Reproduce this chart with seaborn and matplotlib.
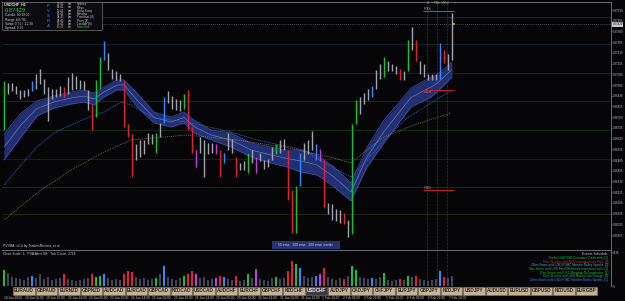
import matplotlib
matplotlib.use("Agg")
import matplotlib.pyplot as plt
import matplotlib.transforms as mtrans
from matplotlib.patches import Rectangle
import numpy as np
import pandas as pd
import seaborn as sns

W, H = 625, 301
BG = "#060609"

# --- price bars (one per bar slot) ---
candle_high = [
    0.8703, 0.8702, 0.8702, 0.8700, 0.8697, 0.8697, 0.8698, 0.8703, 0.8708, 0.8712,
    0.8705, 0.8699, 0.8698, 0.8698, 0.8700, 0.8699, 0.8706, 0.8709, 0.8707, 0.8704,
    0.8703, 0.8697, 0.8687, 0.8704, 0.8720, 0.8731, 0.8723, 0.8712, 0.8710, 0.8708,
    0.8703, 0.8673, 0.8666, 0.8659, 0.8662, 0.8662, 0.8667, 0.8666, 0.8667, 0.8674,
    0.8692, 0.8696, 0.8693, 0.8691, 0.8690, 0.8694, 0.8697, 0.8671, 0.8655, 0.8664,
    0.8662, 0.8660, 0.8660, 0.8659, 0.8655, 0.8653, 0.8667, 0.8663, 0.8650, 0.8646,
    0.8647, 0.8653, 0.8655, 0.8650, 0.8653, 0.8648, 0.8649, 0.8657, 0.8659, 0.8662,
    0.8663, 0.8655, 0.8627, 0.8630, 0.8653, 0.8660, 0.8662, 0.8668, 0.8659, 0.8656,
    0.8648, 0.8618, 0.8617, 0.8614, 0.8613, 0.8611, 0.8606, 0.8673, 0.8690, 0.8692,
    0.8695, 0.8698, 0.8700, 0.8711, 0.8715, 0.8720, 0.8717, 0.8715, 0.8714, 0.8712,
    0.8710, 0.8732, 0.8741, 0.8732, 0.8717, 0.8715, 0.8708, 0.8708, 0.8708, 0.8730,
    0.8725, 0.8722, 0.8751,
]
candle_low = [
    0.8669, 0.8694, 0.8696, 0.8694, 0.8691, 0.8692, 0.8693, 0.8696, 0.8698, 0.8701,
    0.8694, 0.8675, 0.8691, 0.8692, 0.8693, 0.8692, 0.8694, 0.8697, 0.8698, 0.8698,
    0.8697, 0.8683, 0.8669, 0.8678, 0.8698, 0.8718, 0.8711, 0.8705, 0.8704, 0.8703,
    0.8671, 0.8664, 0.8636, 0.8648, 0.8650, 0.8652, 0.8659, 0.8659, 0.8653, 0.8664,
    0.8674, 0.8688, 0.8684, 0.8683, 0.8682, 0.8684, 0.8669, 0.8653, 0.8643, 0.8653,
    0.8636, 0.8652, 0.8653, 0.8652, 0.8636, 0.8646, 0.8655, 0.8653, 0.8636, 0.8641,
    0.8641, 0.8639, 0.8646, 0.8639, 0.8647, 0.8642, 0.8643, 0.8648, 0.8652, 0.8653,
    0.8655, 0.8620, 0.8597, 0.8597, 0.8630, 0.8648, 0.8652, 0.8655, 0.8648, 0.8647,
    0.8615, 0.8610, 0.8606, 0.8605, 0.8604, 0.8603, 0.8594, 0.8596, 0.8673, 0.8680,
    0.8687, 0.8690, 0.8692, 0.8698, 0.8705, 0.8706, 0.8710, 0.8710, 0.8708, 0.8704,
    0.8704, 0.8710, 0.8725, 0.8717, 0.8708, 0.8706, 0.8704, 0.8704, 0.8704, 0.8705,
    0.8716, 0.8711, 0.8718,
]
# PVSRA colour class per bar: w normal, g/r climax, b/m rising volume
candle_class = (
    "gwwwwwwbww" "wwwwwrwwww" "wwrggbwwww" "rrrwwwwwgw" "bwwwwgrrmw"
    "wwwmrbwwrw" "wgwmwwwwgw" "wrrgbwwwbm" "rwwwwrwggw" "wwbwwgwwwr"
    "wgwrwwwwwb" "rww"
)
tick_volume = [
    1600, 1300, 900, 800, 700, 600, 900, 1000, 800, 1200,
    700, 900, 600, 700, 800, 1200, 700, 600, 500, 600,
    700, 800, 1200, 900, 1000, 1200, 800, 600, 700, 600,
    1200, 1500, 1400, 900, 700, 800, 600, 700, 800, 1200,
    2000, 900, 700, 600, 800, 1000, 1200, 1500, 1200, 800,
    900, 600, 700, 800, 1000, 900, 700, 600, 1000, 500,
    600, 1200, 800, 1700, 700, 600, 500, 800, 900, 700,
    800, 1500, 2500, 2200, 1800, 1000, 800, 900, 1000, 1200,
    1800, 900, 700, 600, 800, 700, 1000, 2000, 1600, 900,
    800, 700, 800, 700, 900, 1300, 600, 500, 600, 700,
    600, 1000, 900, 1000, 700, 600, 500, 600, 700, 1500,
    900, 800, 1000,
]

# --- 50 ema envelope (band) and the 100 / 200 ema ---
band_bar = [0, 4.25, 8.25, 12.5, 16.75, 20, 22.5, 25, 28.25, 30, 33.25, 37.5, 41.75,
            45, 47.5, 51.75, 56.75, 61.75, 66.75, 70.75, 74.25, 78.25, 82.5, 86.75,
            90.75, 95, 99.25, 101.75, 106.75, 108.25, 112]
band_upper = [0.86662, 0.86809, 0.86893, 0.86928, 0.86956, 0.8697, 0.86949, 0.86991,
              0.8704, 0.8704, 0.86949, 0.86816, 0.86781, 0.86816, 0.8676, 0.8669,
              0.86669, 0.86599, 0.86571, 0.8655, 0.8655, 0.86515, 0.86431, 0.86319,
              0.86571, 0.8676, 0.869, 0.86984, 0.87061, 0.87075, 0.87166]
band_lower = [0.8648, 0.86641, 0.86788, 0.86844, 0.86872, 0.86886, 0.86865, 0.86921,
              0.8697, 0.8697, 0.86851, 0.86739, 0.86711, 0.86739, 0.86669, 0.8662,
              0.86571, 0.86501, 0.86459, 0.86431, 0.86396, 0.86375, 0.86291, 0.86193,
              0.86431, 0.86599, 0.8676, 0.86851, 0.86921, 0.86956, 0.87061]
ema100_bar = [0, 4.25, 8.25, 12.5, 16.75, 20.75, 25, 29.25, 31.75, 37.5, 45.75, 56.75,
              63.25, 75, 80, 86.75, 90.75, 95, 100.75, 106.75, 112]
ema100 = [0.86305, 0.86445, 0.86571, 0.86669, 0.86725, 0.86774, 0.86816, 0.86886,
          0.86865, 0.86774, 0.86746, 0.86676, 0.8662, 0.8655, 0.86459, 0.86361,
          0.8648, 0.8662, 0.86774, 0.86879, 0.8697]
ema200_bar = [0, 8.25, 16.75, 25, 31.75, 40, 45.75, 58.25, 70, 82.5, 86.75, 90.75,
              95, 102.5, 111.75]
ema200 = [0.8606, 0.86249, 0.8641, 0.86536, 0.8662, 0.86641, 0.86655, 0.8662,
          0.86571, 0.86494, 0.86459, 0.8655, 0.86641, 0.86725, 0.86809]

round_levels = [0.8748, 0.8729, 0.8709, 0.8689, 0.8669, 0.8649, 0.8629, 0.8610]
level_colors = ["#0e2a28", "#18202e", "#122234", "#262610", "#0f3016",
                "#1a202a", "#182432", "#242410"]
bid = 0.87429
price_ticks = [0.8753 - 0.00075 * k for k in range(22)]

date_labels = ["18 Jan 2024", "19 Jan 06:00", "19 Jan 22:00", "22 Jan 14:00",
               "23 Jan 06:00", "23 Jan 22:00", "24 Jan 14:00", "25 Jan 06:00",
               "25 Jan 22:00", "26 Jan 14:00", "29 Jan 06:00", "29 Jan 22:00",
               "30 Jan 14:00", "31 Jan 06:00", "31 Jan 22:00", "1 Feb 14:00",
               "2 Feb 06:00", "2 Feb 22:00", "5 Feb 14:00", "6 Feb 06:00",
               "6 Feb 22:00", "7 Feb 14:00"]
pairs = ["EURAUD", "GBPAUD", "EURNZD", "GBPNZD", "AUDCAD", "EURCAD", "GBPCAD",
         "NZDCAD", "USDCAD", "AUDCHF", "EURCHF", "GBPCHF", "NZDCHF", "USDCHF",
         "AUDJPY", "CADJPY", "CHFJPY", "EURJPY", "GBPJPY", "NZDJPY", "USDJPY",
         "AUDUSD", "EURUSD", "GBPUSD", "NZDUSD", "EURGBP"]
events = [
    ("Prelim UoM USD Consumer Credit m/m  [1]", "#19c23c"),
    ("8 hrs 11 mins until NZD Unemployment Rate  [0]", "#e0203a"),
    ("25hrs 9mins until USD FOMC Member Bailey Speaks  [0]", "#2fb0e8"),
    ("8hrs 9mins until USD Final Wholesale Inventories m/m  [1]", "#19c23c"),
    ("8 hrs 9mins until USD Mortgage Delinquencies  [1]", "#19c23c"),
    ("8 hrs 11 mins until USD Natural Gas Storage  [1]", "#19c23c"),
    ("25hrs 9mins until USD FOMC Member Barkin Speaks  [1]", "#2f8fff"),
]
clock_rows = [("02:41", "am", "Sydney"), ("00:41", "am", "Tokyo"),
              ("11:41", "pm", "Hong Kong"), ("06:41", "pm", "Moscow"),
              ("04:41", "pm", "Frankfurt (8)"), ("04:41", "pm", "Paris (8)"),
              ("03:41", "pm", "London (8)"), ("10:41", "am", "New York")]

class_colors = {"w": "#a4a4ae", "g": "#12c43c", "r": "#e3203c",
                "b": "#2f8cff", "m": "#c43ee6"}
vol_colors = {"w": "#44445a", "g": "#12c43c", "r": "#e3203c",
              "b": "#2f8cff", "m": "#c43ee6"}

sns.set_theme(style="dark")
plt.rcParams["font.family"] = ["Liberation Sans", "DejaVu Sans"]


def fx(x):
    return x / W


def fy(y):
    return 1 - y / H


fig = plt.figure(figsize=(W / 100, H / 100), dpi=100, facecolor=BG)
ax = fig.add_axes([fx(2), fy(250), 609 / W, 248 / H])
vax = fig.add_axes([fx(2), fy(286), 609 / W, 35 / H])
xlim = (-0.5, -0.5 + 609 / 4)

bars = pd.DataFrame({
    "bar": np.arange(len(candle_high)),
    "high": candle_high,
    "low": candle_low,
    "cls": list(candle_class),
    "volume": tick_volume,
})
band = pd.DataFrame({"bar": band_bar, "upper": band_upper, "lower": band_lower})
band["mid"] = (band["upper"] + band["lower"]) / 2

# ---------------- main price window ----------------
ax.set_facecolor(BG)
for lvl, col in zip(round_levels, level_colors):
    ax.axhline(lvl, color=col, lw=0.7, zorder=1)
ax.axhline(bid, color="#8c8c94", lw=0.5, ls=(0, (1, 2)), zorder=2)

ax.fill_between(band["bar"], band["lower"], band["upper"], color="#25327a",
                alpha=0.95, lw=0, zorder=3)
sns.lineplot(data=band, x="bar", y="upper", ax=ax, color="#4050a8", lw=0.5, zorder=4)
sns.lineplot(data=band, x="bar", y="lower", ax=ax, color="#4050a8", lw=0.5, zorder=4)
sns.lineplot(data=band, x="bar", y="mid", ax=ax, color="#8e98d8", lw=0.35, zorder=4)
sns.lineplot(x=ema100_bar, y=ema100, ax=ax, color="#3566c8", lw=0.55,
             ls=(0, (1.5, 1)), zorder=4)
sns.lineplot(x=ema200_bar, y=ema200, ax=ax, color="#a89a5c", lw=0.55,
             ls=(0, (1, 1.5)), zorder=4)

ax.vlines(bars["bar"], bars["low"], bars["high"],
          colors=[class_colors[c] for c in bars["cls"]], lw=1.0, zorder=5)

# session / pivot markers on the right
for b in [105.75, 108.25, 110.75]:
    ax.axvline(b, color="#6c6c6c", lw=0.4, ls=(0, (1, 1.5)), zorder=2)
ax.hlines([0.87523], 104.75, 112.5, color="#3a60d8", lw=0.8, zorder=6)
ax.hlines([0.8697, 0.8627], 104.75, 112.5, color="#c0202c", lw=0.8, zorder=6)
ax.text(105, 0.87523, "R3D5 -", fontsize=2, color="#a0a0b0", va="bottom")
ax.text(105, 0.8697, "S1D4 -", fontsize=2, color="#a0a0b0", va="top")
ax.text(105, 0.8627, "S3D5 -", fontsize=2, color="#a0a0b0", va="bottom")
sns.scatterplot(x=[112.6], y=[bid], ax=ax, color="#20e040", s=2, marker="s",
                edgecolor="none", zorder=7)

ax.set_xlim(*xlim)
ax.set_ylim(0.876 - 0.00007 * 250, 0.876 - 0.00007 * 2)
ax.yaxis.tick_right()
ax.set_yticks(price_ticks)
ax.set_yticklabels([f"{p:.5f}" for p in price_ticks])
ax.tick_params(axis="y", labelsize=2.05, colors="#c4c4c4", length=1, width=0.4, pad=0.5)
ax.set_xticks([])
ax.set_xlabel("")
ax.set_ylabel("")
ax.grid(False)
ax.spines["left"].set_visible(False)
for side in ["right", "top", "bottom"]:
    ax.spines[side].set_color("#7c7c84")
    ax.spines[side].set_linewidth(0.6)
ax.text(1.0025, bid, f"{bid:.5f}", transform=mtrans.blended_transform_factory(
    ax.transAxes, ax.transData), fontsize=2.05, color="#101010", va="center",
    ha="left", bbox=dict(boxstyle="square,pad=0.12", fc="#c9c9d2", ec="none"))

# ---------------- volume sub window ----------------
vax.set_facecolor(BG)
vax.bar(bars["bar"], bars["volume"], width=0.7,
        color=[vol_colors[c] for c in bars["cls"]], lw=0)
for b in [105.75, 108.25, 110.75]:
    vax.axvline(b, color="#6c6c6c", lw=0.4, ls=(0, (1, 1.5)))
vax.set_xlim(*xlim)
vax.set_ylim(0, 3500)
vax.yaxis.tick_right()
vax.set_yticks([0, 3400])
vax.set_yticklabels(["0", "3416"])
vax.tick_params(axis="y", labelsize=2.05, colors="#c4c4c4", length=1, width=0.4, pad=0.5)
vax.set_xticks([k * 5.3 for k in range(len(date_labels))])
vax.set_xticklabels(date_labels, ha="left")
vax.tick_params(axis="x", labelsize=2.3, colors="#c4c4c4", length=0, pad=7.2)
vax.set_xlabel("")
vax.set_ylabel("")
vax.grid(False)
for side in ["left", "top", "bottom"]:
    vax.spines[side].set_visible(False)
vax.spines["right"].set_color("#7c7c84")
vax.spines["right"].set_linewidth(0.6)

# ---------------- overlays in pixel coordinates ----------------
fig.add_artist(Rectangle((fx(2), fy(30)), 100 / W, 28 / H, transform=fig.transFigure,
                         fc="#0b0b10", ec="#707078", lw=0.5))
fig.text(fx(4), fy(4.5), "USDCHF  H1", fontsize=2.6, color="#f0f0f0",
         weight="bold", va="center")
fig.text(fx(5), fy(10), f"{bid:.5f}", fontsize=4.2, color="#18d048", va="center")
info = ["Candle: 00:19:00", "Range: 60 / 95", "Swap: 0.71 / -12.30", "Spread: 0.70"]
for k, line in enumerate(info):
    fig.text(fx(5), fy(15.5 + 4 * k), line, fontsize=2.3, color="#d4d4d4", va="center")
for k, ch in enumerate("PVSRA"):
    fig.text(fx(48), fy(6 + 5 * k), ch, fontsize=3.2, color="#3456d4",
             weight="bold", va="center", ha="center")
for k, (t, ap, city) in enumerate(clock_rows):
    last = k == len(clock_rows) - 1
    tcol = "#d89a3a" if last else "#c8c8c8"
    fig.text(fx(57), fy(4.2 + 3.3 * k), t, fontsize=2.2, color=tcol, va="center")
    fig.text(fx(68), fy(4.2 + 3.3 * k), ap, fontsize=2.2, color=tcol, va="center")
    fig.text(fx(77), fy(4.2 + 3.3 * k), city, fontsize=2.2,
             color="#22d04a" if last else "#c8c8c8", va="center")

fig.text(fx(427), fy(3), "H", fontsize=2.2, color="#b0b0b0", va="center")
fig.text(fx(434), fy(3), "PDL  NYLC", fontsize=2.2, color="#b0b0b0", va="center")

fig.text(fx(3), fy(245.5), "PVSRA  v2.4 by TradersReview, et al.", fontsize=2.4,
         color="#d0d0d0", va="center")
fig.add_artist(Rectangle((fx(272), fy(249)), 68 / W, 8 / H, transform=fig.transFigure,
                         fc="#27336e", ec="none"))
fig.text(fx(306), fy(245), "50 ema,  100 ema,  200 ema  trends", fontsize=2.4,
         color="#c8d0ff", va="center", ha="center")

fig.text(fx(3), fy(254), "Chart Scale: 1;  PVA Alert Off;  Tick Count: 2715",
         fontsize=2.4, color="#c8c8c8", va="center")
fig.text(fx(608), fy(254), "Events Schedule", fontsize=2.4, color="#c8c8c8",
         va="center", ha="right")
for k, (txt, col) in enumerate(events):
    fig.text(fx(608), fy(258 + 3.7 * k), txt, fontsize=2.2, color=col,
             va="center", ha="right")

# symbol tabs
for k, sym in enumerate(pairs):
    x0 = 13.3 + 22.5 * k
    active = sym == "USDCHF"
    fig.add_artist(Rectangle((fx(x0), fy(295)), 21.6 / W, 8 / H,
                             transform=fig.transFigure,
                             fc="#3a3a3e" if active else "#c6b09a",
                             ec="#8a7866", lw=0.4))
    fig.text(fx(x0 + 10.8), fy(291), sym, fontsize=3.3, weight="bold",
             color="#f0f0f0" if active else "#2a2018", ha="center", va="center")

fig.savefig("out.png", dpi=100, facecolor=BG)
